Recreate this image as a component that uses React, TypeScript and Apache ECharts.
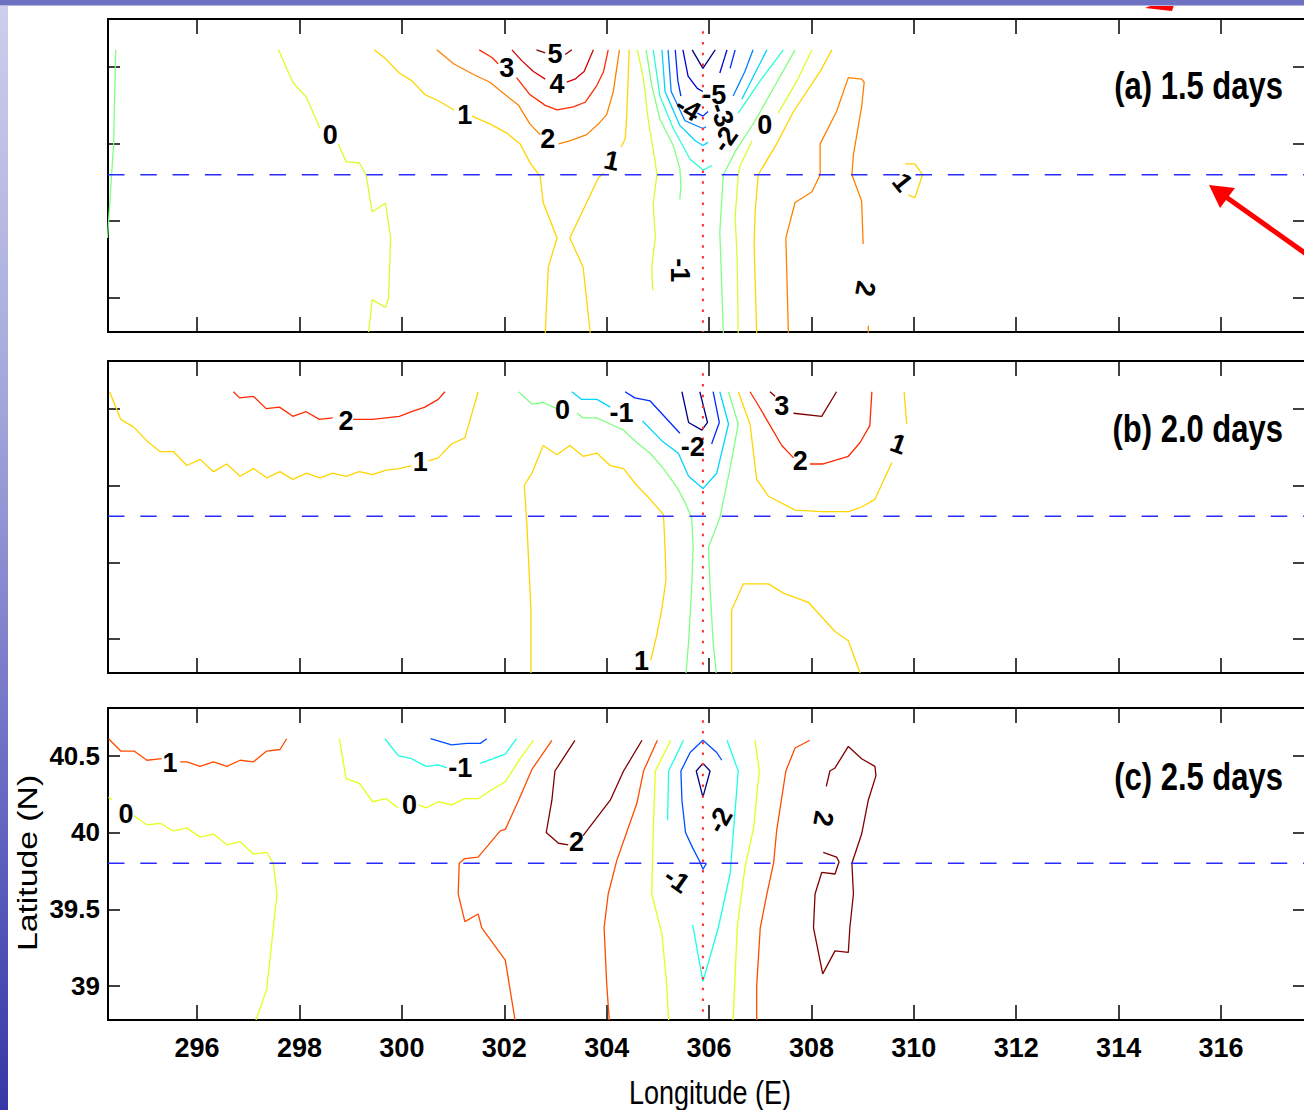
import React, { useEffect, useRef } from "react";
import * as echarts from "echarts";

const FONT = "'Liberation Sans', Arial, Helvetica, sans-serif";

// ---------- axes / reference values ----------
const lonRange = [294.26, 317.64];
const latRange = [38.78, 40.81];
const lonTicks = [296, 298, 300, 302, 304, 306, 308, 310, 312, 314, 316];
const latTicks = [39, 39.5, 40, 40.5];
const panelTitles = ["(a) 1.5 days", "(b) 2.0 days", "(c) 2.5 days"];
const levelRanges = [[-7, 5], [-3, 3], [-3, 2]];
const sectionLat = 39.8;
const sectionLon = 305.88;
const sectionTopLat = 40.73;
const xName = "Longitude (E)";
const yName = "Latitude (N)";

type Seg = number[][];
type Contour = { level: number; segs: Seg[] };
type Lbl = { t: string; lon: number; lat: number; rot: number };

// ---------- panel (a) 1.5 days ----------
const contoursA: Contour[] = [
  { level: -1, segs: [[[294.41, 40.61], [294.37, 40.0], [294.25, 39.39]]] },
  { level: 0, segs: [
    [[297.59, 40.61], [297.87, 40.40], [298.14, 40.30], [298.40, 40.10]],
    [[298.76, 40.0], [298.91, 39.885], [299.17, 39.876], [299.30, 39.80], [299.42, 39.56], [299.68, 39.615], [299.78, 39.39], [299.74, 39.0], [299.68, 38.94], [299.42, 38.99], [299.35, 38.78]],
  ] },
  { level: 1, segs: [
    [[299.46, 40.61], [299.69, 40.55], [299.95, 40.46], [300.19, 40.41], [300.45, 40.32], [300.71, 40.28], [301.02, 40.22]],
    [[301.37, 40.18], [301.72, 40.13], [302.05, 40.07], [302.31, 40.00], [302.50, 39.88], [302.70, 39.79], [302.76, 39.62], [303.03, 39.39], [302.86, 39.20], [302.80, 38.77]],
  ] },
  { level: 1, segs: [
    [[304.44, 40.61], [304.39, 40.16], [304.36, 40.03], [304.28, 39.98]],
    [[303.94, 39.81], [303.84, 39.78], [303.28, 39.39], [303.54, 39.20], [303.68, 38.77]],
  ] },
  { level: 2, segs: [
    [[300.68, 40.61], [301.01, 40.52], [301.40, 40.45], [301.72, 40.40], [302.05, 40.31], [302.28, 40.25], [302.50, 40.13], [302.70, 40.06]],
    [[303.06, 40.00], [303.28, 40.02], [303.61, 40.06], [303.84, 40.13], [304.00, 40.19], [304.13, 40.34], [304.25, 40.61]],
  ] },
  { level: 3, segs: [
    [[301.51, 40.61], [301.76, 40.56], [301.88, 40.52]],
    [[302.24, 40.43], [302.50, 40.32], [302.80, 40.25], [303.03, 40.22], [303.35, 40.24], [303.58, 40.27], [303.81, 40.38], [303.94, 40.47], [304.03, 40.61]],
  ] },
  { level: 4, segs: [
    [[302.15, 40.61], [302.34, 40.54], [302.57, 40.47], [302.80, 40.42]],
    [[303.22, 40.40], [303.38, 40.42], [303.56, 40.47], [303.74, 40.61]],
  ] },
  { level: 5, segs: [
    [[302.63, 40.61], [302.80, 40.59]],
    [[303.19, 40.58], [303.32, 40.61]],
  ] },
  { level: 0, segs: [[[304.60, 40.61], [304.72, 40.42], [304.81, 40.16], [304.95, 39.88], [304.98, 39.80], [304.91, 39.61], [304.95, 39.39], [304.88, 39.20], [304.90, 39.05]]] },
  { level: -1, segs: [[[304.77, 40.61], [304.88, 40.38], [305.04, 40.16], [305.30, 39.99], [305.43, 39.84], [305.45, 39.73], [305.43, 39.64]]] },
  { level: -7, segs: [[[305.67, 40.61], [305.88, 40.49], [306.12, 40.61]]] },
  { level: -6, segs: [
    [[305.49, 40.61], [305.59, 40.44], [305.77, 40.36], [305.88, 40.34]],
    [[306.21, 40.46], [306.35, 40.61]],
  ] },
  { level: -5, segs: [
    [[305.34, 40.61], [305.39, 40.41], [305.45, 40.31]],
    [[305.77, 40.20], [305.88, 40.18], [305.98, 40.21]],
    [[306.41, 40.49], [306.51, 40.61]],
  ] },
  { level: -4, segs: [
    [[305.20, 40.61], [305.26, 40.34], [305.53, 40.15], [305.88, 40.10], [305.94, 40.11]],
    [[306.47, 40.31], [306.70, 40.47], [306.86, 40.61]],
  ] },
  { level: -3, segs: [
    [[305.08, 40.61], [305.14, 40.34], [305.43, 40.12], [305.73, 40.02], [305.88, 39.99], [305.98, 40.01]],
    [[306.64, 40.29], [306.90, 40.46], [307.13, 40.61]],
  ] },
  { level: -2, segs: [
    [[304.91, 40.61], [305.04, 40.31], [305.30, 40.10], [305.63, 39.90], [305.88, 39.83], [306.06, 39.86]],
    [[306.57, 40.20], [307.00, 40.41], [307.45, 40.61]],
  ] },
  { level: 1, segs: [[[308.40, 40.61], [308.17, 40.47], [307.65, 40.21], [307.32, 40.00], [306.96, 39.80], [306.90, 39.56], [306.88, 39.35], [306.93, 38.77]]] },
  { level: 0, segs: [
    [[308.01, 40.61], [307.72, 40.41], [307.35, 40.20]],
    [[306.84, 40.02], [306.61, 39.86], [306.57, 39.80], [306.51, 39.53], [306.55, 39.24], [306.57, 38.77]],
  ] },
  { level: -1, segs: [[[307.68, 40.61], [307.29, 40.38], [306.90, 40.15], [306.51, 39.95], [306.28, 39.80], [306.21, 39.43], [306.28, 38.77]]] },
  { level: 2, segs: [
    [[307.55, 38.77], [307.50, 39.39], [307.68, 39.62], [308.01, 39.69], [308.17, 39.80], [308.17, 40.00], [308.49, 40.21], [308.72, 40.43], [308.98, 40.42], [309.03, 40.40], [308.98, 40.24], [308.82, 39.93], [308.79, 39.80], [308.98, 39.63], [309.01, 39.35]],
    [[309.11, 38.82], [309.11, 38.77]],
  ] },
  { level: 1, segs: [[[309.83, 39.87], [310.02, 39.87], [310.17, 39.80], [310.02, 39.65], [309.89, 39.67]]] },
];
const labelsA: Lbl[] = [
  { t: "0", lon: 298.6, lat: 40.06, rot: 0 },
  { t: "1", lon: 301.23, lat: 40.19, rot: 0 },
  { t: "3", lon: 302.05, lat: 40.49, rot: 0 },
  { t: "4", lon: 303.03, lat: 40.39, rot: 0 },
  { t: "5", lon: 302.99, lat: 40.58, rot: 0 },
  { t: "2", lon: 302.85, lat: 40.03, rot: 0 },
  { t: "1", lon: 304.10, lat: 39.89, rot: -12 },
  { t: "-5", lon: 306.10, lat: 40.32, rot: 0 },
  { t: "-4", lon: 305.59, lat: 40.23, rot: -30 },
  { t: "-3", lon: 306.25, lat: 40.19, rot: -70 },
  { t: "-2", lon: 306.31, lat: 40.03, rot: 55 },
  { t: "0", lon: 307.09, lat: 40.12, rot: 0 },
  { t: "-1", lon: 305.43, lat: 39.18, rot: -90 },
  { t: "2", lon: 309.05, lat: 39.06, rot: -100 },
  { t: "1", lon: 309.78, lat: 39.75, rot: -51 },
];

// ---------- panel (b) 2.0 days ----------
const contoursB: Contour[] = [
  { level: 1, segs: [
    [[294.29, 40.61], [294.51, 40.43], [294.76, 40.38], [295.02, 40.29], [295.28, 40.22], [295.54, 40.22], [295.80, 40.13], [296.06, 40.17], [296.32, 40.09], [296.58, 40.14], [296.84, 40.06], [297.10, 40.11], [297.36, 40.05], [297.62, 40.09], [297.87, 40.04], [298.14, 40.08], [298.40, 40.05], [298.65, 40.08], [298.91, 40.06], [299.17, 40.09], [299.43, 40.07], [299.69, 40.10], [299.95, 40.11], [300.19, 40.13]],
    [[300.52, 40.16], [300.71, 40.18], [300.97, 40.27], [301.23, 40.31], [301.49, 40.61]],
  ] },
  { level: 2, segs: [
    [[296.71, 40.61], [296.83, 40.57], [297.10, 40.58], [297.35, 40.50], [297.61, 40.51], [297.87, 40.45], [298.13, 40.48], [298.39, 40.43], [298.65, 40.44]],
    [[299.05, 40.43], [299.43, 40.43], [299.69, 40.44], [299.95, 40.45], [300.19, 40.48], [300.45, 40.51], [300.71, 40.56], [300.84, 40.61]],
  ] },
  { level: 1, segs: [[[302.52, 38.78], [302.52, 39.20], [302.44, 39.76], [302.39, 40.00], [302.54, 40.08], [302.76, 40.26], [303.03, 40.20], [303.28, 40.26], [303.54, 40.19], [303.81, 40.21], [304.07, 40.13], [304.33, 40.11], [304.59, 40.00], [304.85, 39.91], [305.11, 39.81], [305.14, 39.59], [305.16, 39.39], [305.08, 39.20], [304.98, 39.03], [304.86, 38.86]]] },
  { level: 0, segs: [
    [[302.28, 40.61], [302.54, 40.53], [302.76, 40.54], [303.03, 40.50]],
    [[303.42, 40.47], [303.54, 40.44], [303.81, 40.44], [304.07, 40.40], [304.33, 40.36], [304.59, 40.28], [304.85, 40.21], [305.11, 40.11], [305.37, 39.99], [305.53, 39.89], [305.66, 39.79], [305.69, 39.61], [305.66, 39.33], [305.60, 38.98], [305.55, 38.78]],
  ] },
  { level: 0, segs: [[[306.38, 40.61], [306.57, 40.40], [306.41, 40.11], [306.21, 39.79], [305.99, 39.60], [306.02, 39.33], [306.08, 38.98], [306.14, 38.78]]] },
  { level: -1, segs: [
    [[303.32, 40.61], [303.51, 40.56], [303.81, 40.56], [304.07, 40.51]],
    [[304.70, 40.42], [305.08, 40.29], [305.40, 40.21], [305.60, 40.06], [305.88, 39.98], [306.15, 40.08], [306.38, 40.40], [306.21, 40.61]],
  ] },
  { level: -2, segs: [
    [[304.36, 40.61], [304.55, 40.57], [304.85, 40.55], [305.21, 40.42], [305.43, 40.34]],
    [[306.05, 40.27], [306.20, 40.41], [306.08, 40.61]],
  ] },
  { level: -3, segs: [[[305.47, 40.61], [305.60, 40.41], [305.86, 40.36], [305.97, 40.41], [305.82, 40.61]]] },
  { level: 1, segs: [
    [[306.57, 40.61], [306.80, 40.40], [306.93, 40.04], [307.16, 39.93], [307.68, 39.84], [308.20, 39.83], [308.72, 39.83], [308.98, 39.86], [309.24, 39.91], [309.57, 40.15]],
    [[309.86, 40.40], [309.81, 40.61]],
  ] },
  { level: 2, segs: [
    [[306.80, 40.61], [306.93, 40.54], [307.42, 40.26], [307.65, 40.18]],
    [[307.97, 40.14], [308.23, 40.14], [308.72, 40.19], [308.95, 40.28], [309.14, 40.39], [309.18, 40.61]],
  ] },
  { level: 3, segs: [
    [[307.19, 40.61], [307.29, 40.58]],
    [[307.65, 40.47], [308.20, 40.45], [308.49, 40.61]],
  ] },
  { level: 1, segs: [[[306.44, 38.78], [306.44, 39.19], [306.67, 39.36], [307.16, 39.36], [307.45, 39.30], [307.94, 39.24], [308.46, 39.05], [308.72, 38.99], [308.95, 38.78]]] },
];
const labelsB: Lbl[] = [
  { t: "2", lon: 298.91, lat: 40.42, rot: 0 },
  { t: "1", lon: 300.36, lat: 40.15, rot: 0 },
  { t: "0", lon: 303.14, lat: 40.49, rot: 0 },
  { t: "-1", lon: 304.29, lat: 40.47, rot: 0 },
  { t: "-2", lon: 305.68, lat: 40.25, rot: 0 },
  { t: "3", lon: 307.42, lat: 40.52, rot: 0 },
  { t: "2", lon: 307.78, lat: 40.16, rot: 0 },
  { t: "1", lon: 309.70, lat: 40.27, rot: -20 },
  { t: "1", lon: 304.68, lat: 38.86, rot: 0 },
];

// ---------- panel (c) 2.5 days ----------
const contoursC: Contour[] = [
  { level: 1, segs: [
    [[294.27, 40.61], [294.51, 40.53], [294.77, 40.53], [295.02, 40.47], [295.31, 40.48]],
    [[295.67, 40.46], [295.80, 40.46], [296.06, 40.43], [296.32, 40.46], [296.58, 40.43], [296.84, 40.47], [297.10, 40.46], [297.36, 40.53], [297.62, 40.54], [297.75, 40.61]],
  ] },
  { level: 0, segs: [
    [[294.27, 40.23], [294.34, 40.21]],
    [[294.76, 40.11], [295.02, 40.05], [295.28, 40.06], [295.54, 40.01], [295.80, 40.03], [296.06, 39.97], [296.32, 39.99], [296.58, 39.92], [296.84, 39.94], [297.10, 39.86], [297.36, 39.87], [297.49, 39.80], [297.56, 39.60], [297.49, 39.38], [297.36, 38.98], [297.15, 38.78]],
  ] },
  { level: 0, segs: [
    [[298.78, 40.61], [298.91, 40.35], [299.17, 40.32], [299.43, 40.20], [299.69, 40.22], [299.93, 40.16]],
    [[300.32, 40.18], [300.47, 40.16], [300.71, 40.20], [300.97, 40.18], [301.23, 40.22], [301.49, 40.22], [301.76, 40.28], [302.02, 40.33], [302.31, 40.48], [302.57, 40.60]],
  ] },
  { level: -1, segs: [
    [[299.67, 40.61], [299.93, 40.50], [300.19, 40.48], [300.47, 40.43], [300.71, 40.44], [300.88, 40.42]],
    [[301.53, 40.45], [302.02, 40.51], [302.24, 40.61]],
  ] },
  { level: -2, segs: [[[300.56, 40.61], [300.97, 40.57], [301.27, 40.58], [301.53, 40.58], [301.66, 40.61]]] },
  { level: 1, segs: [[[302.93, 40.60], [302.54, 40.41], [302.28, 40.21], [302.02, 40.02], [301.92, 40.01], [301.49, 39.84], [301.23, 39.83], [301.12, 39.80], [301.10, 39.60], [301.23, 39.42], [301.49, 39.47], [301.56, 39.38], [302.02, 39.17], [302.21, 38.78]]] },
  { level: 2, segs: [
    [[303.38, 40.60], [302.99, 40.40], [302.93, 40.21], [302.82, 40.00], [303.06, 39.93], [303.25, 39.92]],
    [[303.54, 39.98], [304.07, 40.21], [304.33, 40.40], [304.69, 40.60]],
  ] },
  { level: 1, segs: [[[304.99, 40.60], [304.72, 40.40], [304.59, 40.19], [304.39, 40.00], [304.20, 39.82], [304.03, 39.60], [303.95, 39.38], [304.00, 39.02], [304.05, 38.78]]] },
  { level: 0, segs: [[[305.25, 40.60], [304.95, 40.40], [304.91, 40.01], [304.88, 39.60], [305.08, 39.34], [305.17, 39.02], [305.21, 38.78]]] },
  { level: 0, segs: [[[306.90, 40.60], [306.98, 40.40], [306.87, 40.03], [306.70, 39.77], [306.55, 39.38], [306.47, 38.78]]] },
  { level: -1, segs: [[[305.50, 40.60], [305.21, 40.40], [305.19, 40.08]]] },
  { level: -1, segs: [[[306.35, 40.60], [306.57, 40.40], [306.41, 39.73], [306.18, 39.38], [305.88, 39.03], [305.68, 39.40]]] },
  { level: -2, segs: [[[306.25, 40.47], [306.15, 40.52], [305.88, 40.60], [305.63, 40.52], [305.45, 40.40], [305.47, 40.21], [305.54, 40.00], [305.68, 39.90], [305.82, 39.81], [305.88, 39.76], [305.95, 39.80]]] },
  { level: -3, segs: [[[305.88, 40.45], [306.02, 40.40], [305.88, 40.23], [305.75, 40.40], [305.88, 40.45]]] },
  { level: 1, segs: [[[307.97, 40.60], [307.68, 40.55], [307.50, 40.40], [307.32, 40.01], [307.26, 39.80], [307.13, 39.60], [307.00, 39.38], [306.93, 39.00], [306.93, 38.78]]] },
  { level: 2, segs: [[[308.29, 40.30], [308.36, 40.40], [308.46, 40.42], [308.72, 40.56], [308.98, 40.48], [309.24, 40.43], [309.26, 40.37], [309.11, 40.21], [308.98, 39.99], [308.79, 39.80], [308.82, 39.60], [308.75, 39.38], [308.72, 39.22], [308.46, 39.23], [308.22, 39.08], [308.04, 39.38], [308.07, 39.60], [308.20, 39.74], [308.46, 39.73], [308.54, 39.81], [308.49, 39.84], [308.23, 39.87]]] },
];
const labelsC: Lbl[] = [
  { t: "1", lon: 295.47, lat: 40.45, rot: 0 },
  { t: "0", lon: 294.61, lat: 40.12, rot: 0 },
  { t: "0", lon: 300.15, lat: 40.18, rot: 0 },
  { t: "-1", lon: 301.14, lat: 40.42, rot: 0 },
  { t: "2", lon: 303.41, lat: 39.94, rot: 0 },
  { t: "-2", lon: 306.21, lat: 40.08, rot: 60 },
  { t: "-1", lon: 305.37, lat: 39.69, rot: -35 },
  { t: "2", lon: 308.23, lat: 40.09, rot: -100 },
];

const panels = [
  { contours: contoursA, labels: labelsA },
  { contours: contoursB, labels: labelsB },
  { contours: contoursC, labels: labelsC },
];

// ---------- styling / layout ----------
const GRID_LEFT = 108;
const GRID_WIDTH = 1197;
const gridBoxes = [
  { top: 19, height: 313 },
  { top: 361, height: 312 },
  { top: 708, height: 312 },
];

function jet(t: number): string {
  const c = (v: number) => Math.round(Math.max(0, Math.min(1, v)) * 255);
  const r = c(1.5 - Math.abs(4 * t - 3));
  const g = c(1.5 - Math.abs(4 * t - 2));
  const b = c(1.5 - Math.abs(4 * t - 1));
  return `rgb(${r},${g},${b})`;
}

function buildOption() {
  const grid: any[] = [];
  const xAxis: any[] = [];
  const yAxis: any[] = [];
  const series: any[] = [];

  panels.forEach((p, i) => {
    grid.push({ left: GRID_LEFT, top: gridBoxes[i].top, width: GRID_WIDTH, height: gridBoxes[i].height, containLabel: false, outerBoundsMode: "none" });
    const showX = i === 2;
    const xa = (pos: string, lab: boolean) => ({
      type: "value", gridIndex: i, position: pos, min: lonRange[0], max: lonRange[1],
      axisLine: { show: true, onZero: false, lineStyle: { color: "#000", width: 2 } },
      axisTick: { show: true, inside: true, length: 15, customValues: lonTicks, lineStyle: { color: "#000", width: 1.5 } },
      axisLabel: { show: lab, customValues: lonTicks, formatter: (v: number) => String(v), color: "#000", fontSize: 27, fontWeight: "bold", fontFamily: FONT, margin: 14 },
      splitLine: { show: false },
    });
    const ya = (pos: string, lab: boolean) => ({
      type: "value", gridIndex: i, position: pos, min: latRange[0], max: latRange[1],
      axisLine: { show: true, onZero: false, lineStyle: { color: "#000", width: 2 } },
      axisTick: { show: true, inside: true, length: 12, customValues: latTicks, lineStyle: { color: "#000", width: 1.5 } },
      axisLabel: { show: lab, customValues: latTicks, formatter: (v: number) => String(v), color: "#000", fontSize: 26, fontWeight: "bold", fontFamily: FONT, margin: 8 },
      splitLine: { show: false },
    });
    xAxis.push(xa("bottom", showX), xa("top", false));
    yAxis.push(ya("left", showX), ya("right", false));

    const [lo, hi] = levelRanges[i];
    p.contours.forEach((c) => {
      const color = jet((c.level - lo) / (hi - lo));
      c.segs.forEach((s) => {
        series.push({
          type: "line", xAxisIndex: 2 * i, yAxisIndex: 2 * i, data: s,
          symbol: "none", showSymbol: false, silent: true, clip: true, z: 2,
          lineStyle: { color, width: 1.3 },
        });
      });
    });
    series.push({
      type: "line", xAxisIndex: 2 * i, yAxisIndex: 2 * i, symbol: "none", silent: true, z: 3,
      data: [[lonRange[0], sectionLat], [lonRange[1], sectionLat]],
      lineStyle: { color: "#2b2bff", width: 1.3, type: [16.5, 15.8] },
    });
    series.push({
      type: "line", xAxisIndex: 2 * i, yAxisIndex: 2 * i, symbol: "none", silent: true, z: 3,
      data: [[sectionLon, sectionTopLat], [sectionLon, latRange[0]]],
      lineStyle: { color: "#ff3030", width: 2, type: [2.5, 8.2] },
    });
    series.push({
      type: "scatter", xAxisIndex: 2 * i, yAxisIndex: 2 * i, symbolSize: 1, silent: true, z: 5,
      itemStyle: { color: "rgba(0,0,0,0)", opacity: 1 },
      data: p.labels.map((l) => ({ name: l.t, value: [l.lon, l.lat], label: { rotate: l.rot } })),
      label: { show: true, position: "inside", formatter: "{b}", color: "#000", opacity: 1, textBorderWidth: 0, fontSize: 27, fontWeight: "bold", fontFamily: FONT },
    });
  });

  const titleY = [85, 428, 776];
  const graphic: any[] = [
    { type: "rect", z: 10, shape: { x: 0, y: 0, width: 8, height: 1110 },
      style: { fill: new echarts.graphic.LinearGradient(0, 0, 0, 1, [
        { offset: 0, color: "#cdcfec" }, { offset: 0.35, color: "#a6a8dc" }, { offset: 0.7, color: "#6a6cc4" }, { offset: 1, color: "#3636a6" },
      ]) } },
    { type: "polygon", z: 9, shape: { points: [[1145, 8], [1160, 2], [1175, 2], [1172, 11]] }, style: { fill: "#ff0000" } },
    { type: "rect", z: 10, shape: { x: 0, y: 0, width: 1304, height: 5 }, style: { fill: "#6e70c2" } },
    { type: "rect", z: 10, shape: { x: 0, y: 5, width: 1304, height: 1 }, style: { fill: "#b4b6e0" } },
    { type: "line", z: 20, shape: { x1: 1226, y1: 197, x2: 1312, y2: 258 }, style: { stroke: "#ff0000", lineWidth: 5 } },
    { type: "polygon", z: 20, shape: { points: [[1209, 185], [1220, 208], [1235, 188]] }, style: { fill: "#ff0000" } },
    ...panelTitles.map((t, i) => ({
      type: "text", z: 20, x: 1283, y: titleY[i], scaleY: 1.25,
      style: { text: t, fontSize: 31, fontWeight: "bold", fontFamily: FONT, fill: "#000", textAlign: "right", textVerticalAlign: "middle" },
    })),
    { type: "text", z: 20, x: 710, y: 1092, scaleY: 1.25,
      style: { text: xName, fontSize: 27, fontFamily: FONT, fill: "#000", textAlign: "center", textVerticalAlign: "middle" } },
    { type: "text", z: 20, x: 27, y: 863, rotation: Math.PI / 2, scaleX: 1.25,
      style: { text: yName, fontSize: 27, fontFamily: FONT, fill: "#000", textAlign: "center", textVerticalAlign: "middle" } },
  ];

  return { animation: false, backgroundColor: "#fff", tooltip: { show: false }, grid, xAxis, yAxis, series, graphic };
}

export default function App() {
  const ref = useRef<HTMLDivElement>(null);
  useEffect(() => {
    document.body.style.margin = "0";
    document.body.style.overflow = "hidden";
    const chart = echarts.init(ref.current!, null, { renderer: "svg" });
    chart.setOption(buildOption() as any);
    return () => chart.dispose();
  }, []);
  return <div ref={ref} style={{ width: 1304, height: 1110, background: "#fff" }} />;
}
